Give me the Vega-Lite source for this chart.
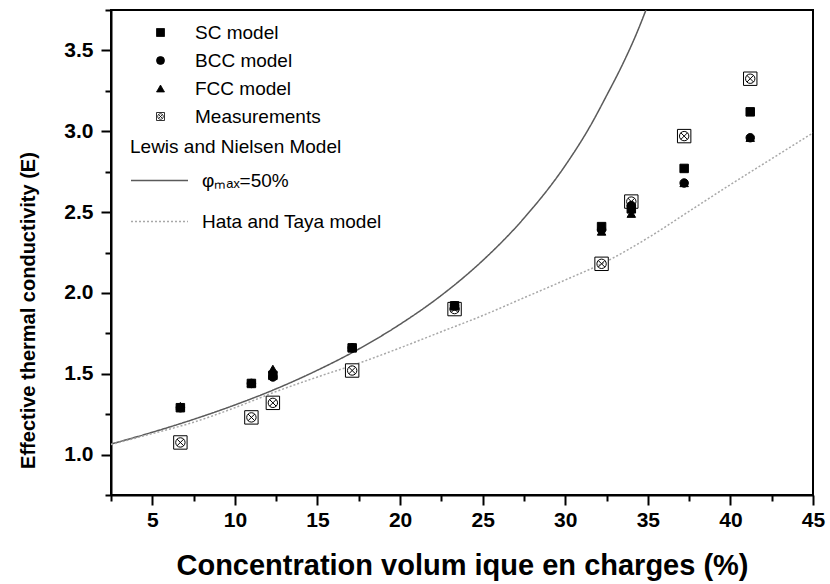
{
  "$schema": "https://vega.github.io/schema/vega-lite/v6.json",
  "width": 702,
  "height": 485,
  "autosize": {"type": "none"},
  "padding": {"left": 111, "top": 10, "right": 17, "bottom": 89},
  "background": "white",
  "config": {
    "view": {"stroke": "black", "strokeWidth": 2},
    "font": "Liberation Sans",
    "axis": {"grid": false, "domainColor": "black", "domainWidth": 2, "tickColor": "black", "tickWidth": 2, "labelColor": "black", "titleColor": "black", "labelFont": "Liberation Sans", "titleFont": "Liberation Sans", "labelFontWeight": "bold", "titleFontWeight": "bold", "titleLimit": 800},
    "legend": {"labelFont": "Liberation Sans", "titleFont": "Liberation Sans", "labelColor": "black", "titleColor": "black", "labelLimit": 500, "titleLimit": 500}
  },
  "datasets": {
    "curves": [
      {"model": "φₘₐₓ=50%", "x": 2.5, "y": 1.065},
      {"model": "φₘₐₓ=50%", "x": 5, "y": 1.138},
      {"model": "φₘₐₓ=50%", "x": 7.5, "y": 1.218},
      {"model": "φₘₐₓ=50%", "x": 10, "y": 1.307},
      {"model": "φₘₐₓ=50%", "x": 12.5, "y": 1.407},
      {"model": "φₘₐₓ=50%", "x": 15, "y": 1.522},
      {"model": "φₘₐₓ=50%", "x": 17.5, "y": 1.653},
      {"model": "φₘₐₓ=50%", "x": 20, "y": 1.806},
      {"model": "φₘₐₓ=50%", "x": 22.5, "y": 1.985},
      {"model": "φₘₐₓ=50%", "x": 25, "y": 2.2},
      {"model": "φₘₐₓ=50%", "x": 27.5, "y": 2.462},
      {"model": "φₘₐₓ=50%", "x": 30, "y": 2.788},
      {"model": "φₘₐₓ=50%", "x": 31.5, "y": 3.03},
      {"model": "φₘₐₓ=50%", "x": 32.5, "y": 3.22},
      {"model": "φₘₐₓ=50%", "x": 33.5, "y": 3.42},
      {"model": "φₘₐₓ=50%", "x": 34.3, "y": 3.6},
      {"model": "φₘₐₓ=50%", "x": 35.0, "y": 3.78},
      {"model": "Hata and Taya model", "x": 2.5, "y": 1.062},
      {"model": "Hata and Taya model", "x": 5, "y": 1.13},
      {"model": "Hata and Taya model", "x": 7.5, "y": 1.2},
      {"model": "Hata and Taya model", "x": 10, "y": 1.29},
      {"model": "Hata and Taya model", "x": 12.5, "y": 1.39},
      {"model": "Hata and Taya model", "x": 15, "y": 1.48},
      {"model": "Hata and Taya model", "x": 17.5, "y": 1.565},
      {"model": "Hata and Taya model", "x": 20, "y": 1.66},
      {"model": "Hata and Taya model", "x": 22.5, "y": 1.76},
      {"model": "Hata and Taya model", "x": 25, "y": 1.86},
      {"model": "Hata and Taya model", "x": 27.5, "y": 1.97},
      {"model": "Hata and Taya model", "x": 30, "y": 2.08},
      {"model": "Hata and Taya model", "x": 32.5, "y": 2.195},
      {"model": "Hata and Taya model", "x": 35, "y": 2.34},
      {"model": "Hata and Taya model", "x": 37.5, "y": 2.505},
      {"model": "Hata and Taya model", "x": 40, "y": 2.67},
      {"model": "Hata and Taya model", "x": 42.5, "y": 2.83},
      {"model": "Hata and Taya model", "x": 45, "y": 2.99}
    ],
    "points": [
      {"series": "Measurements", "x": 6.7, "y": 1.075},
      {"series": "Measurements", "x": 11.0, "y": 1.23},
      {"series": "Measurements", "x": 12.3, "y": 1.32},
      {"series": "Measurements", "x": 17.1, "y": 1.52},
      {"series": "Measurements", "x": 23.3, "y": 1.9},
      {"series": "Measurements", "x": 32.2, "y": 2.18},
      {"series": "Measurements", "x": 34.0, "y": 2.565},
      {"series": "Measurements", "x": 37.2, "y": 2.97},
      {"series": "Measurements", "x": 41.2, "y": 3.325},
      {"series": "SC model", "x": 6.7, "y": 1.29},
      {"series": "SC model", "x": 11.0, "y": 1.44},
      {"series": "SC model", "x": 12.3, "y": 1.49},
      {"series": "SC model", "x": 17.1, "y": 1.66},
      {"series": "SC model", "x": 23.3, "y": 1.92},
      {"series": "SC model", "x": 32.2, "y": 2.41},
      {"series": "SC model", "x": 34.0, "y": 2.52},
      {"series": "SC model", "x": 37.2, "y": 2.77},
      {"series": "SC model", "x": 41.2, "y": 3.12},
      {"series": "BCC model", "x": 6.7, "y": 1.29},
      {"series": "BCC model", "x": 11.0, "y": 1.44},
      {"series": "BCC model", "x": 12.3, "y": 1.48},
      {"series": "BCC model", "x": 17.1, "y": 1.66},
      {"series": "BCC model", "x": 23.3, "y": 1.92},
      {"series": "BCC model", "x": 32.2, "y": 2.39},
      {"series": "BCC model", "x": 34.0, "y": 2.54},
      {"series": "BCC model", "x": 37.2, "y": 2.68},
      {"series": "BCC model", "x": 41.2, "y": 2.96},
      {"series": "FCC model", "x": 6.7, "y": 1.3},
      {"series": "FCC model", "x": 11.0, "y": 1.445},
      {"series": "FCC model", "x": 12.3, "y": 1.53},
      {"series": "FCC model", "x": 17.1, "y": 1.665},
      {"series": "FCC model", "x": 23.3, "y": 1.925},
      {"series": "FCC model", "x": 32.2, "y": 2.38},
      {"series": "FCC model", "x": 34.0, "y": 2.49},
      {"series": "FCC model", "x": 37.2, "y": 2.68},
      {"series": "FCC model", "x": 41.2, "y": 2.96}
    ]
  },
  "encoding": {
    "x": {
      "field": "x", "type": "quantitative",
      "scale": {"domain": [2.5, 45], "nice": false, "zero": false},
      "axis": {
        "title": "Concentration volum ique en charges (%)",
        "values": [2.5, 5, 7.5, 10, 12.5, 15, 17.5, 20, 22.5, 25, 27.5, 30, 32.5, 35, 37.5, 40, 42.5, 45],
        "labelExpr": "datum.value % 5 == 0 ? datum.label : ''",
        "tickSize": {"condition": {"test": "datum.value % 5 == 0", "value": 10}, "value": 6},
        "labelFontSize": 21,
        "labelPadding": 4,
        "titleFontSize": 29,
        "titlePadding": 21,
        "labelFlush": false
      }
    },
    "y": {
      "field": "y", "type": "quantitative",
      "scale": {"domain": [0.75, 3.75], "nice": false, "zero": false},
      "axis": {
        "title": "Effective thermal conductivity (E)",
        "values": [0.75, 1, 1.25, 1.5, 1.75, 2, 2.25, 2.5, 2.75, 3, 3.25, 3.5, 3.75],
        "labelExpr": "(round(datum.value*100) % 50 == 0) ? format(datum.value, '.1f') : ''",
        "tickSize": {"condition": {"test": "round(datum.value*100) % 50 == 0", "value": 10}, "value": 6},
        "labelFontSize": 21,
        "labelPadding": 8,
        "titleFontSize": 20,
        "titlePadding": 25,
        "titleY": 300,
        "labelFlush": false
      }
    }
  },
  "layer": [
    {
      "data": {"name": "curves"},
      "mark": {"type": "line", "strokeWidth": 1.5, "interpolate": "monotone", "clip": true},
      "encoding": {
        "color": {
          "field": "model", "type": "nominal",
          "scale": {"domain": ["φₘₐₓ=50%", "Hata and Taya model"], "range": ["#5a5a5a", "#a8a8a8"]},
          "legend": {
            "title": "Lewis and Nielsen Model",
            "orient": "none", "legendX": 19, "legendY": 128,
            "titleFontSize": 19, "titleFontWeight": "normal", "titlePadding": -6,
            "labelFontSize": 19, "labelOffset": 13,
            "symbolType": "stroke", "symbolSize": 3249, "symbolStrokeWidth": 1.5,
            "rowPadding": 1, "padding": 0
          }
        },
        "strokeDash": {
          "field": "model", "type": "nominal",
          "scale": {"domain": ["φₘₐₓ=50%", "Hata and Taya model"], "range": [[1, 0], [2, 2]]}
        }
      }
    },
    {
      "data": {"name": "points"},
      "mark": {"type": "point", "filled": true, "stroke": "black", "strokeWidth": 1, "opacity": 1},
      "encoding": {
        "shape": {
          "field": "series", "type": "nominal",
          "scale": {
            "domain": ["SC model", "BCC model", "FCC model", "Measurements"],
            "range": ["square", "circle", "triangle-up", "M-1,-1H1V1H-1Z M-0.7,0A0.7,0.7 0 1,0 0.7,0A0.7,0.7 0 1,0 -0.7,0Z M-0.5,-0.5L0.5,0.5 M-0.5,0.5L0.5,-0.5"]
          },
          "legend": {
            "title": null, "orient": "none", "legendX": 40, "legendY": 13,
            "labelFontSize": 19, "labelOffset": 25, "rowPadding": 8, "padding": 0,
            "symbolSize": 64, "symbolStrokeWidth": 0.8
          }
        },
        "fill": {
          "field": "series", "type": "nominal",
          "scale": {
            "domain": ["SC model", "BCC model", "FCC model", "Measurements"],
            "range": ["black", "black", "black", "white"]
          }
        },
        "size": {
          "condition": {"test": "datum.series === 'Measurements'", "value": 180},
          "value": 72
        }
      }
    }
  ]
}
